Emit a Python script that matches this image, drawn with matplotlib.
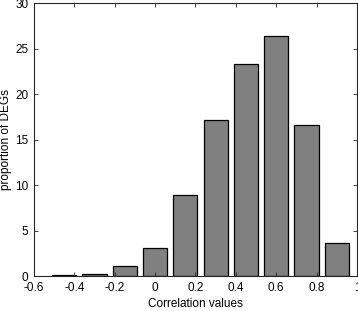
import matplotlib
matplotlib.use("Agg")
import matplotlib.pyplot as plt

plt.rcParams['font.family'] = ['Liberation Sans', 'DejaVu Sans']

bin_centers = [-0.45, -0.3, -0.15, 0.0, 0.15, 0.3, 0.45, 0.6, 0.75, 0.9]
proportions = [0.12, 0.3, 1.1, 3.1, 8.95, 17.2, 23.3, 26.4, 16.6, 3.65]
x_ticks = [-0.6, -0.4, -0.2, 0, 0.2, 0.4, 0.6, 0.8, 1]
x_tick_labels = ['-0.6', '-0.4', '-0.2', '0', '0.2', '0.4', '0.6', '0.8', '1']
y_ticks = [0, 5, 10, 15, 20, 25, 30]

fig = plt.figure(figsize=(3.58, 3.11), dpi=100)
ax = fig.add_axes([0.095, 0.111, 0.902, 0.878])
ax.bar(bin_centers, proportions, width=0.12, color='#808080', edgecolor='black', linewidth=0.9)
ax.set_xlim(-0.6, 1)
ax.set_ylim(0, 30)
ax.set_xticks(x_ticks)
ax.set_xticklabels(x_tick_labels)
ax.set_yticks(y_ticks)
ax.tick_params(direction='in', top=True, right=True, labelsize=8.5, length=3, width=0.6, colors='#262626')
ax.tick_params(axis='x', pad=4)
ax.tick_params(axis='y', pad=4)
ax.tick_params(labelcolor='black')
for s in ax.spines.values():
    s.set_linewidth(0.8)
    s.set_color('#262626')
ax.set_xlabel('Correlation values', fontsize=8.5, labelpad=3)
ax.set_ylabel('proportion of DEGs', fontsize=8.5, labelpad=2)
fig.savefig('out.png', dpi=100)
